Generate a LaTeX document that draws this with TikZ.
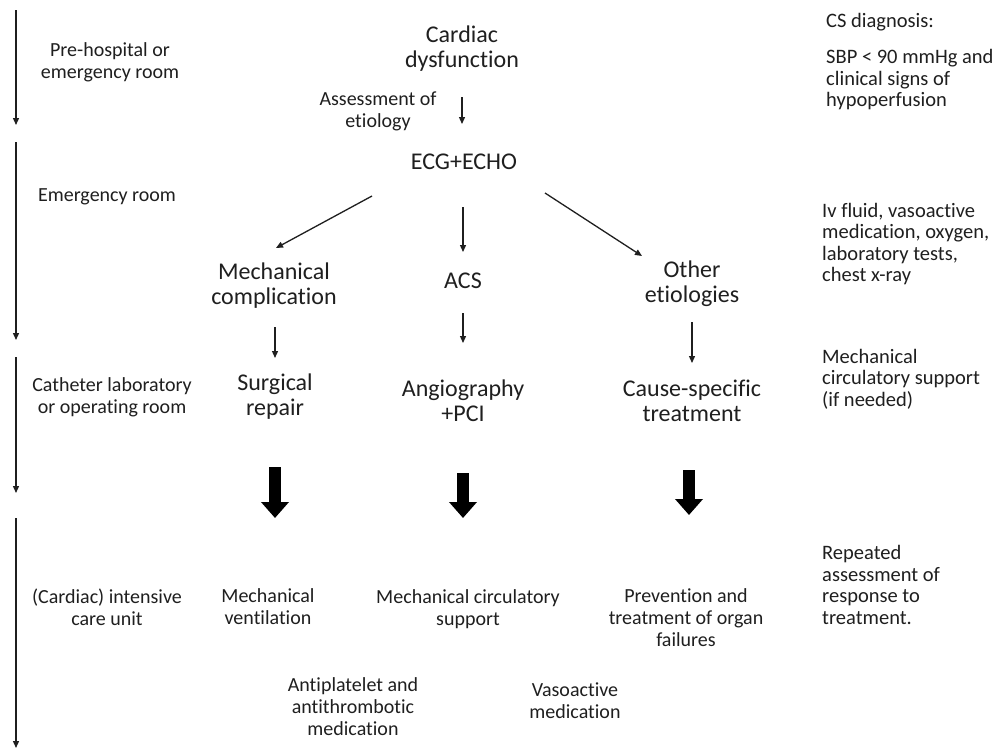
\documentclass[tikz,border=0pt]{standalone}
\usepackage{fontspec}
\setmainfont{Carlito}[Ligatures={NoCommon,NoContextual}]
\usetikzlibrary{arrows.meta,calc}
\definecolor{ink}{HTML}{1F1F1F}
\begin{document}
\begin{tikzpicture}[x=1pt,y=-1pt,
  every node/.style={text=ink, inner sep=0pt, align=center},
  big/.style={font=\fontsize{24}{25}\selectfont},
  small/.style={font=\fontsize{20}{22}\selectfont},
  side/.style={font=\fontsize{20.5}{21.5}\selectfont, anchor=west, align=left},
  arr/.style={draw=ink, line width=1.3pt, -{Triangle[length=7pt,width=6pt]}},
  fat/.style={draw=black, line width=12pt, -{Triangle[length=16pt,width=27pt]}}]
\fill[white] (0,0) rectangle (1002,750);
\useasboundingbox (0,0) rectangle (1002,750);

% timeline
\coordinate (t1s) at (16,10);  \coordinate (t1e) at (16,125);
\coordinate (t2s) at (16,142); \coordinate (t2e) at (16,340);
\coordinate (t3s) at (16,357); \coordinate (t3e) at (16,493);
\coordinate (t4s) at (16,518); \coordinate (t4e) at (16,748);
\draw[arr] (t1s) -- (t1e);
\draw[arr] (t2s) -- (t2e);
\draw[arr] (t3s) -- (t3e);
\draw[arr] (t4s) -- (t4e);

% stage labels
\node[small] (L1) at (110,62) {Pre-hospital or\\emergency room};
\node[small] (L2) at (107,197) {Emergency room};
\node[small] (L3) at (112,397) {Catheter laboratory\\or operating room};
\node[small] (L4) at (107,607) {(Cardiac) intensive\\care unit};

% main flow
\node[big] (cd) at (462,49) {Cardiac\\dysfunction};
\node[small] (assess) at (378,111) {Assessment of\\etiology};
\node[big] (ecg) at (464,162) {ECG+ECHO};
\node[big] (mech) at (274,286) {Mechanical\\complication};
\node[big] (acs) at (463,281) {ACS};
\node[big] (other) at (692,284) {Other\\etiologies};
\node[big] (surg) at (275,397) {Surgical\\repair};
\node[big] (angio) at (463,401) {Angiography\\+PCI};
\node[big] (cause) at (692,401) {Cause-specific\\treatment};

\node[small] (mv) at (268,607) {Mechanical\\ventilation};
\node[small] (mcs) at (468,609) {Mechanical circulatory\\support};
\node[small] (prev) at (686,618) {Prevention and\\treatment of organ\\failures};
\node[small] (anti) at (353,707) {Antiplatelet and\\antithrombotic\\medication};
\node[small] (vaso) at (575,701) {Vasoactive\\medication};

% right column
\node[side] (cs) at (826,22) {CS diagnosis:};
\node[side] (sbp) at (826,80) {SBP < 90 mmHg and\\clinical signs of\\hypoperfusion};
\node[side] (iv) at (822,244) {Iv fluid, vasoactive\\medication, oxygen,\\laboratory tests,\\chest x-ray};
\node[side] (mcsR) at (822,379) {Mechanical\\circulatory support\\(if needed)};
\node[side] (rep) at (822,585) {Repeated\\assessment of\\response to\\treatment.};

% connectors
\draw[arr] ($(cd.center)+(0,48)$) -- ($(ecg.center)+(-2,-38)$);
\draw[arr] ($(ecg.center)+(-92,34)$) -- ($(mech.center)+(2,-38)$);
\draw[arr] ($(ecg.center)+(-1,45)$) -- ($(acs.center)+(0,-29)$);
\draw[arr] ($(ecg.center)+(81,31)$) -- ($(other.center)+(-50,-28)$);
\draw[arr] ($(mech.center)+(1,41)$) -- ($(surg.center)+(0,-39)$);
\draw[arr] ($(acs.center)+(0,32)$) -- ($(angio.center)+(0,-58)$);
\draw[arr] ($(other.center)+(0,38)$) -- ($(cause.center)+(0,-38)$);

% thick arrows
\draw[fat] ($(surg.center)+(0,70)$) -- ($(surg.center)+(0,121)$);
\draw[fat] ($(angio.center)+(0,72)$) -- ($(angio.center)+(0,117)$);
\draw[fat] ($(cause.center)+(-3,69)$) -- ($(cause.center)+(-3,114)$);
\end{tikzpicture}
\end{document}
